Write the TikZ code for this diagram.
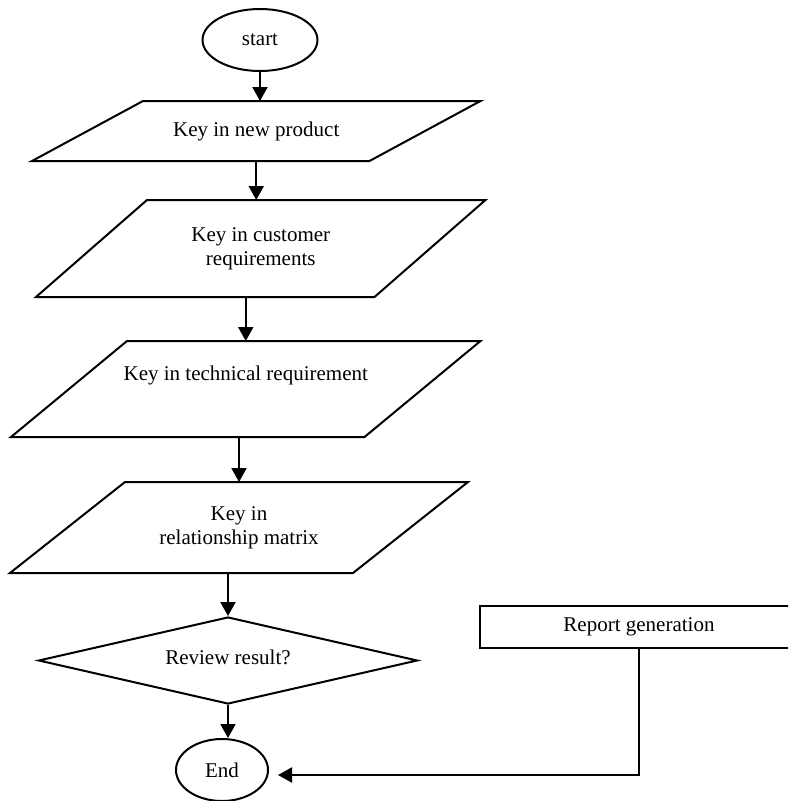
\documentclass[tikz,border=0pt]{standalone}
\usepackage{fontspec}
\setmainfont{Liberation Serif}
\usepackage{tikz}
\usetikzlibrary{shapes.geometric}
\usetikzlibrary{calc,arrows.meta}

\begin{document}
\begin{tikzpicture}[x=1pt,y=-1pt,line width=2pt,
		font=\fontsize{21}{24}\selectfont,
		term/.style={draw,ellipse,inner sep=0pt},
		inbox/.style={inner sep=0pt,align=center},
		arr/.style={-{Triangle[length=14pt,width=15pt]}}]
		\useasboundingbox (0,0) rectangle (788,801);
		\clip (0,0) rectangle (788,801);
		
		%anfang
		\node[term,minimum width=115pt,minimum height=62pt] (start) at (260,40) {start};
		
		%eingaben
		\node[inbox,minimum width=335.5pt,minimum height=58pt] (p1) at (256.25,131) {Key in new product};
		\node[inbox,minimum width=336.5pt,minimum height=95pt] (p2) at (260.75,248.5) {Key in customer\\requirements};
		\node[inbox,minimum width=351.5pt,minimum height=94pt] (p3) at (245.75,389) {Key in technical requirement\\\strut};
		\node[inbox,minimum width=341pt,minimum height=89pt] (p4) at (239,527.5) {Key in\\relationship matrix};
		\foreach \n/\d in {p1/55.5,p2/55.5,p3/58,p4/57.5}
		{
			\draw ($(\n.north west)+(\d,0)$) -- ($(\n.north east)+(\d,0)$) -- ($(\n.south east)+(-\d,0)$) -- ($(\n.south west)+(-\d,0)$) -- cycle;
		}
		
		%abfrage und ende
		\node[draw,diamond,aspect=4.36,inner sep=0pt,minimum width=379pt,minimum height=87pt] (review) at (228,660.5) {\raisebox{6pt}{Review result?}};
		\node[term,minimum width=92pt,minimum height=62pt] (End) at (222,770) {End};
		\node[draw,inner sep=0pt,minimum width=318pt,minimum height=42pt] (report) at (639,627) {Report generation};
		
		%pfeile
		\draw[arr] (start.south) -- (start.south |- p1.north);
		\draw[arr] (p1.south) -- (p1.south |- p2.north);
		\draw[arr] (p3.north |- p2.south) -- (p3.north);
		\draw[arr] (p4.north |- p3.south) -- (p4.north);
		\draw[arr] (review.north |- p4.south) -- (review.north);
		\draw[arr] (review.south) -- (review.south |- End.north);
		\draw[arr] (report.south) |- ([xshift=9pt,yshift=-5pt]End.east);
\end{tikzpicture}
\end{document}
